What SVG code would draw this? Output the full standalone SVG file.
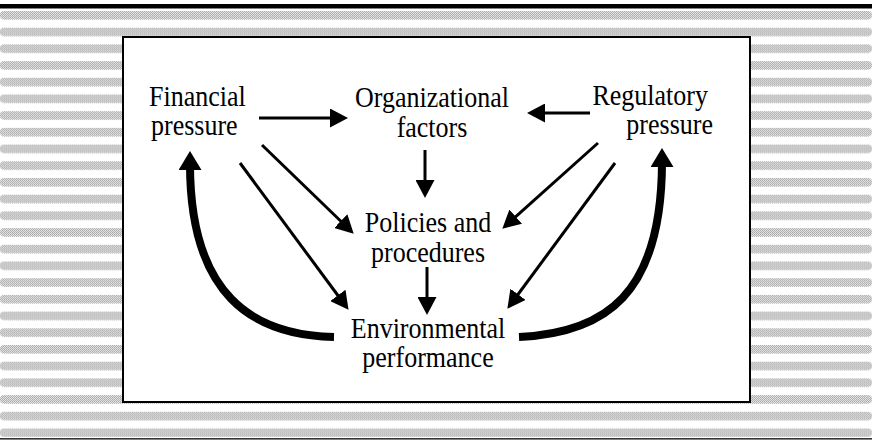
<svg xmlns="http://www.w3.org/2000/svg" width="872" height="441" viewBox="0 0 872 441">
  <defs>
    <pattern id="dots" patternUnits="userSpaceOnUse" width="2" height="2">
      <rect x="0" y="0" width="2" height="2" fill="#ebebeb"/>
      <rect x="0" y="0" width="1" height="1" fill="#a6a6a6"/>
      <rect x="1" y="1" width="1" height="1" fill="#a6a6a6"/>
    </pattern>
    <pattern id="bands" patternUnits="userSpaceOnUse" x="0" y="11" width="872" height="16.7">
      <rect x="0" y="0" width="872" height="8.5" rx="4" fill="url(#dots)"/>
    </pattern>
    <marker id="head" markerUnits="userSpaceOnUse" markerWidth="18" markerHeight="19" refX="7" refY="9.5" orient="auto">
      <path d="M0,0 L18,9.5 L0,19 Z" fill="#000"/>
    </marker>
    <marker id="headBig" markerUnits="userSpaceOnUse" markerWidth="19" markerHeight="23" refX="6" refY="11.5" orient="auto">
      <path d="M0,0 L19,11.5 L0,23 Z" fill="#000"/>
    </marker>
  </defs>
  <style>
    .lbl { font-family: "Liberation Serif", "Times New Roman", serif; font-size: 26px; fill: #000; }
    .mid { text-anchor: middle; }
    .end { text-anchor: end; }
    .thin { fill: none; stroke: #000; stroke-width: 3; marker-end: url(#head); }
    .thick { fill: none; stroke: #000; stroke-width: 8; marker-end: url(#headBig); }
  </style>

  <rect x="0" y="0" width="872" height="441" fill="#fff"/>
  <rect x="0" y="10" width="872" height="427" fill="url(#bands)"/>
  <rect x="0" y="4" width="872" height="4.5" fill="#000"/>
  <rect x="0" y="438" width="872" height="1.6" fill="#333"/>
  <rect id="panel" x="123" y="37" width="627" height="365" fill="#fff" stroke="#000" stroke-width="2"/>

  <g id="connectors">
    <path class="thin" d="M259,118 L337,118"/>
    <path class="thin" d="M590,113 L538,113"/>
    <path class="thin" d="M425,150 L425,187"/>
    <path class="thin" d="M427,267 L427,304"/>
    <path class="thin" d="M262,145 L345.8,226"/>
    <path class="thin" d="M240,163 L342,301"/>
    <path class="thin" d="M598,143 L510.5,221.3"/>
    <path class="thin" d="M615,163 L513.9,300"/>
    <path class="thick" d="M334,337 C252,335 190,295 190,164"/>
    <path class="thick" d="M519,337 C605,333 662,295 662,161"/>
  </g>

  <g id="financial">
    <text class="lbl" transform="translate(149,106) scale(1,1.1)">Financial</text>
    <text class="lbl" transform="translate(151,135) scale(1,1.1)">pressure</text>
  </g>
  <g id="organizational">
    <text class="lbl mid" transform="translate(432,107) scale(1,1.1)">Organizational</text>
    <text class="lbl mid" transform="translate(432,137) scale(1,1.1)">factors</text>
  </g>
  <g id="regulatory">
    <text class="lbl end" transform="translate(708,105) scale(1,1.1)">Regulatory</text>
    <text class="lbl end" transform="translate(713,134) scale(1,1.1)">pressure</text>
  </g>
  <g id="policies">
    <text class="lbl mid" transform="translate(428,232) scale(1,1.1)">Policies and</text>
    <text class="lbl mid" transform="translate(428,262) scale(1,1.1)">procedures</text>
  </g>
  <g id="environmental">
    <text class="lbl mid" transform="translate(428,338) scale(1,1.1)">Environmental</text>
    <text class="lbl mid" transform="translate(428,367) scale(1,1.1)">performance</text>
  </g>
</svg>
